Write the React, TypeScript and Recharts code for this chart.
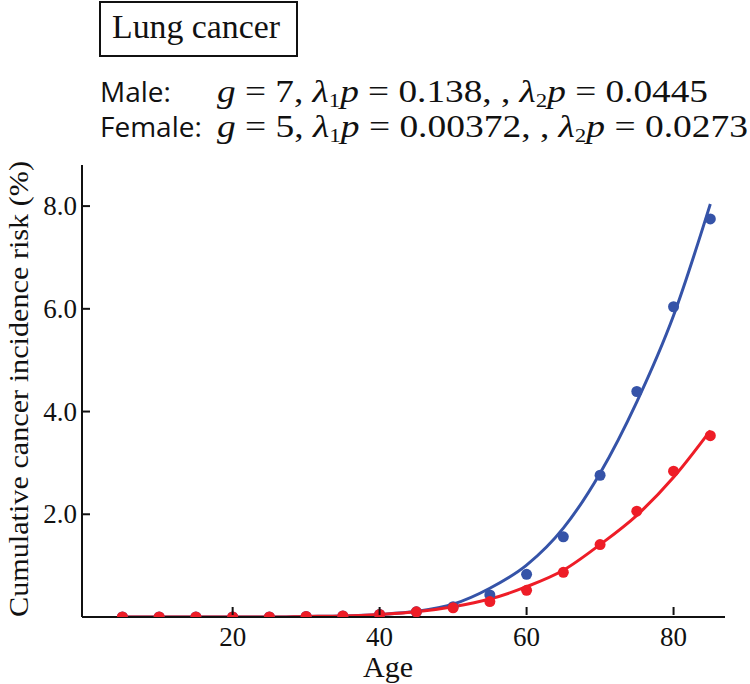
import { ComposedChart, Line, XAxis, YAxis } from "recharts";

const ages = [5, 10, 15, 20, 25, 30, 35, 40, 45, 50, 55, 60, 65, 70, 75, 80, 85];
const maleObserved = [0, 0, 0, 0, 0, 0.01, 0.02, 0.05, 0.1, 0.2, 0.43, 0.83, 1.56, 2.76, 4.39, 6.04, 7.75];
const femaleObserved = [0, 0, 0, 0, 0, 0.01, 0.02, 0.05, 0.1, 0.18, 0.3, 0.52, 0.87, 1.41, 2.06, 2.84, 3.53];
const maleFit = [0, 0, 0, 0, 0, 0.01, 0.02, 0.05, 0.11, 0.25, 0.56, 1.01, 1.73, 2.8, 4.19, 5.87, 8.04];
const femaleFit = [0, 0, 0, 0, 0, 0.01, 0.02, 0.05, 0.1, 0.2, 0.35, 0.59, 0.91, 1.41, 1.98, 2.72, 3.63];

const xTicks = [20, 40, 60, 80];
const yTicks = [2, 4, 6, 8];

const BLUE = "#3553a8";
const RED = "#ee1d27";
const SERIF = "'Liberation Serif', 'Times New Roman', serif";
const SANS = "'Open Sans', 'Liberation Sans', sans-serif";

const rows = ages.map((age, i) => ({
  age,
  maleObs: maleObserved[i],
  femaleObs: femaleObserved[i],
  maleFit: maleFit[i],
  femaleFit: femaleFit[i],
}));

// ticks point inward, labels sit outside the axis
const YTick = (props: any) => {
  const { x, y, payload } = props;
  return (
    <g>
      <line x1={x + 6} x2={x + 14} y1={y} y2={y} stroke="#111" strokeWidth={2} />
      <text x={x + 1} y={y} dy={9} textAnchor="end" fontFamily={SERIF} fontSize={27} fill="#111">
        {payload.value.toFixed(1)}
      </text>
    </g>
  );
};

const XTick = (props: any) => {
  const { x, y, payload } = props;
  return (
    <g>
      <line x1={x} x2={x} y1={y - 4} y2={y - 12} stroke="#111" strokeWidth={2} />
      <text x={x} y={y + 27} textAnchor="middle" fontFamily={SERIF} fontSize={27} fill="#111">
        {payload.value}
      </text>
    </g>
  );
};

const dot = (color: string) => (props: any) => {
  const { cx, cy, index } = props;
  return <circle key={index} cx={cx} cy={cy} r={5.5} fill={color} />;
};

function Params({ y, label, g, l1, l2, mathEnd }: { y: number; label: string; g: string; l1: string; l2: string; mathEnd: number }) {
  const subSize = 19;
  const subDy = 5;
  return (
    <g fill="#111">
      <text x={100} y={y} fontFamily={SANS} fontSize={28}>{label}</text>
      <text x={217} y={y} fontFamily={SERIF} fontSize={31} textLength={mathEnd - 217} lengthAdjust="spacingAndGlyphs">
        <tspan fontStyle="italic">g</tspan>
        <tspan> = {g}, </tspan>
        <tspan fontStyle="italic">λ</tspan>
        <tspan fontSize={subSize} dy={subDy}>1</tspan>
        <tspan fontStyle="italic" dy={-subDy}>p</tspan>
        <tspan> = {l1}, , </tspan>
        <tspan fontStyle="italic">λ</tspan>
        <tspan fontSize={subSize} dy={subDy}>2</tspan>
        <tspan fontStyle="italic" dy={-subDy}>p</tspan>
        <tspan> = {l2}</tspan>
      </text>
    </g>
  );
}

export default function App() {
  return (
    <div style={{ position: "absolute", left: 0, top: 0, width: 750, height: 684, background: "#fff" }}>
      <ComposedChart
        width={750}
        height={684}
        data={rows}
        margin={{ top: 165, right: 25, bottom: 37, left: 2 }}
      >
        <XAxis
          dataKey="age"
          type="number"
          domain={[-0.5, 87]}
          ticks={xTicks}
          height={30}
          tickLine={false}
          tickSize={0}
          tick={<XTick />}
          axisLine={{ stroke: "#111", strokeWidth: 2 }}
          allowDataOverflow
        />
        <YAxis
          type="number"
          domain={[0, 8.8]}
          ticks={yTicks}
          width={80}
          tickLine={false}
          tickSize={0}
          tickMargin={6}
          tick={<YTick />}
          axisLine={{ stroke: "#111", strokeWidth: 2 }}
          allowDataOverflow
        />
        <Line dataKey="maleFit" type="monotone" stroke={BLUE} strokeWidth={3} dot={false} isAnimationActive={false} />
        <Line dataKey="maleObs" stroke="none" dot={dot(BLUE)} activeDot={false} isAnimationActive={false} />
        <Line dataKey="femaleFit" type="monotone" stroke={RED} strokeWidth={3} dot={false} isAnimationActive={false} />
        <Line dataKey="femaleObs" stroke="none" dot={dot(RED)} activeDot={false} isAnimationActive={false} />
      </ComposedChart>
      <svg width={750} height={684} style={{ position: "absolute", left: 0, top: 0, pointerEvents: "none" }}>
        <rect x={100} y={2} width={197} height={54} fill="none" stroke="#111" strokeWidth={2} />
        <text x={112} y={38} fontFamily={SERIF} fontSize={33} fill="#111" textLength={168} lengthAdjust="spacingAndGlyphs">
          Lung cancer
        </text>
        <Params y={102} label="Male:" g="7" l1="0.138" l2="0.0445" mathEnd={708} />
        <Params y={137} label="Female:" g="5" l1="0.00372" l2="0.0273" mathEnd={748} />
        <text x={388} y={677} textAnchor="middle" fontFamily={SERIF} fontSize={30} fill="#111">Age</text>
        <text
          transform="translate(28, 389) rotate(-90)"
          textAnchor="middle"
          fontFamily={SERIF}
          fontSize={28}
          fill="#111"
          textLength={456}
          lengthAdjust="spacingAndGlyphs"
        >
          Cumulative cancer incidence risk (%)
        </text>
      </svg>
    </div>
  );
}
